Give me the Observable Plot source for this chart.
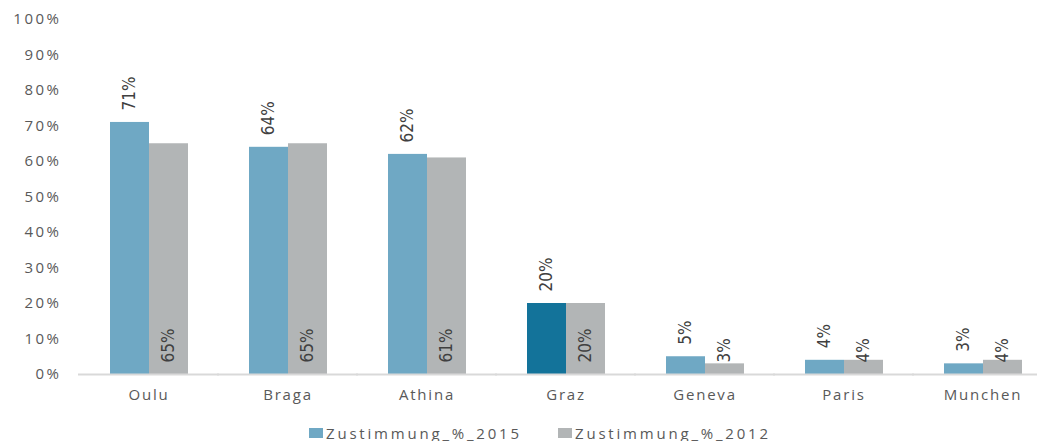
<!DOCTYPE html>
<html>
<head>
<meta charset="utf-8">
<script src="https://cdn.jsdelivr.net/npm/d3@7"></script>
<script src="https://cdn.jsdelivr.net/npm/@observablehq/plot@0.6"></script>
<style>
  html, body { margin: 0; padding: 0; background: #fff; overflow: hidden; }
  #chart svg { display: block; }
  #chart g[aria-label="y-axis tick label"] { letter-spacing: 2.5px; }
  #chart g[aria-label="fx-axis tick label"] { letter-spacing: 1.8px; }
  .legend { position: relative; height: 31px; font-family: "Open Sans", sans-serif; font-size: 15px; color: #595959; letter-spacing: 2.8px; }
  .legend .item { position: absolute; top: 15px; display: flex; align-items: center; line-height: 16px; }
  .legend .sw { width: 14px; height: 10px; margin-right: 3px; }
</style>
</head>
<body>
<div id="chart"></div>
<script>
const cities = ["Oulu", "Braga", "Athina", "Graz", "Geneva", "Paris", "Munchen"];
const values2015 = [71, 64, 62, 20, 5, 4, 3];
const values2012 = [65, 65, 61, 20, 3, 4, 4];
const seriesNames = ["Zustimmung_%_2015", "Zustimmung_%_2012"];
const seriesKeys = ["2015", "2012"];
const highlightCity = "Graz";
const yTicks = [0, 10, 20, 30, 40, 50, 60, 70, 80, 90, 100];

const colors = { "2015": "#6fa8c4", "2012": "#b2b5b6", highlight: "#13739a" };

const data = [];
cities.forEach((c, i) => {
  data.push({ city: c, series: "2015", value: values2015[i] });
  data.push({ city: c, series: "2012", value: values2012[i] });
});
const fillOf = d => d.series === "2015" ? (d.city === highlightCity ? colors.highlight : colors["2015"]) : colors["2012"];

const labelFont = "'Liberation Sans Narrow', 'DejaVu Sans Condensed', 'Arial Narrow', sans-serif";

const chart = Plot.plot({
  width: 1037,
  height: 410,
  marginLeft: 79,
  marginRight: -15,
  marginTop: 19,
  marginBottom: 36,
  style: { fontFamily: "'Open Sans', sans-serif", fontSize: "15px", color: "#595959", background: "#fff" },
  fx: { domain: cities, paddingInner: 0.43, paddingOuter: 0.215, axis: null },
  x: { domain: seriesKeys, padding: 0, axis: null },
  y: { domain: [0, 100] },
  marks: [
    Plot.barY(data, { fx: "city", x: "series", y: "value", fill: fillOf }),
    Plot.ruleY(cities.map(c => ({ city: c })), { fx: "city", y: () => 0, stroke: "#d9d9d9", strokeWidth: 2, insetLeft: -31, insetRight: -31 }),
    Plot.text(data.filter(d => d.series === "2015"), {
      fx: "city", x: "series", y: "value", text: d => d.value + "%",
      rotate: -90, textAnchor: "start", dy: -12,
      fontFamily: labelFont, fontSize: 17, fill: "#404040"
    }),
    Plot.text(data.filter(d => d.series === "2012"), {
      fx: "city", x: "series", y: () => 0, text: d => d.value + "%",
      rotate: -90, textAnchor: "start", dy: -12,
      fontFamily: labelFont, fontSize: 17, fill: "#404040"
    }),
    Plot.axisY({ ticks: yTicks, tickFormat: d => d + "%", tickSize: 0, tickPadding: 48, label: null, fill: "#595959" }),
    Plot.axisFx({ anchor: "bottom", tickSize: 0, tickPadding: 15, label: null, fill: "#595959" })
  ]
});
document.getElementById("chart").appendChild(chart);

const legend = document.createElement("div");
legend.className = "legend";
const legendLeft = [309, 558];
seriesKeys.forEach((k, i) => {
  const item = document.createElement("div");
  item.className = "item";
  item.style.left = legendLeft[i] + "px";
  const sw = document.createElement("span");
  sw.className = "sw";
  sw.style.background = colors[k];
  const t = document.createElement("span");
  t.textContent = seriesNames[i];
  item.appendChild(sw);
  item.appendChild(t);
  legend.appendChild(item);
});
document.body.appendChild(legend);
</script>
</body>
</html>
